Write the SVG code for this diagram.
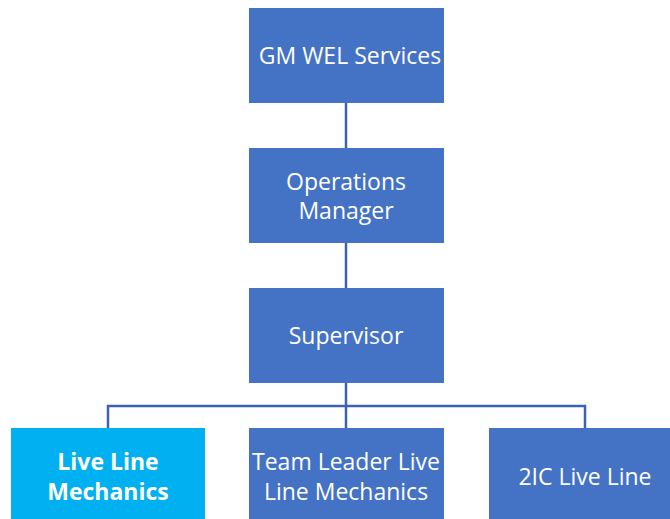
<svg xmlns="http://www.w3.org/2000/svg" width="670" height="519" viewBox="0 0 670 519">
<style>
.box{fill:#4472C4}
.hl{fill:#00B0F0}
.t{font-family:"Open Sans","Liberation Sans",sans-serif;font-size:23px;fill:#ffffff;text-anchor:middle;dominant-baseline:central}
.b{font-weight:bold}
.c{stroke:#3F62AE;stroke-width:2.5;fill:none}
</style>
<rect width="670" height="519" fill="#ffffff"/>
<g id="connectors">
<line class="c" x1="346" y1="103" x2="346" y2="148"/>
<line class="c" x1="346" y1="243" x2="346" y2="288"/>
<line class="c" x1="346" y1="383" x2="346" y2="428"/>
<polyline class="c" points="108,428 108,406 585,406 585,428"/>
</g>
<g id="n1"><rect class="box" x="249" y="8" width="195" height="95"/><text class="t" x="350" y="55">GM WEL Services</text></g>
<g id="n2"><rect class="box" x="249" y="148" width="195" height="95"/><text class="t" x="346" y="181">Operations</text><text class="t" x="346" y="210">Manager</text></g>
<g id="n3"><rect class="box" x="249" y="288" width="195" height="95"/><text class="t" x="346" y="335">Supervisor</text></g>
<g id="n4"><rect class="hl" x="11" y="428" width="194" height="95"/><text class="t b" x="108" y="461">Live Line</text><text class="t b" x="108" y="491">Mechanics</text></g>
<g id="n5"><rect class="box" x="249" y="428" width="195" height="95"/><text class="t" x="346" y="461">Team Leader Live</text><text class="t" x="346" y="491">Line Mechanics</text></g>
<g id="n6"><rect class="box" x="489" y="428" width="195" height="95"/><text class="t" x="585" y="476">2IC Live Line</text></g>
</svg>
